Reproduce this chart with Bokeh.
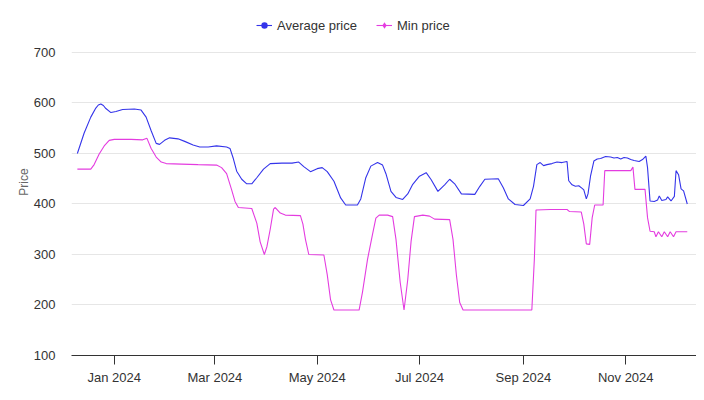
from datetime import datetime, timedelta
from bokeh.plotting import figure
from bokeh.models import (ColumnDataSource, Legend, LegendItem, FixedTicker,
                          DatetimeTickFormatter, Range1d)
from bokeh.embed import file_html
from bokeh.resources import INLINE

# ---- data (day offsets from 2024-01-01) ----
avg_days = [-22, -18, -14, -11, -9.5, -8, -6.5, -5, -2, 1, 5, 12, 16, 19, 22, 25, 27, 30, 33,
            38, 42, 47, 51, 56, 61, 67, 69, 71, 73, 76, 79, 82, 85, 89, 93, 100, 106, 110,
            113, 117, 121, 124, 127, 131, 135, 138, 145, 147, 150, 153, 157, 160, 162, 165,
            168, 172, 175, 178, 182, 186, 189, 193, 197, 200, 203, 207, 215, 218, 221, 229,
            232, 235, 239, 244, 248, 250, 252, 254, 256, 258, 261, 264, 267, 270, 271, 273,
            275, 277, 279, 280, 281.5, 282.5, 284, 286, 288, 290, 293, 296, 298, 300, 302,
            304, 306, 308, 310, 313, 315, 317, 318, 319.5, 322, 324, 325, 326.5, 329, 330,
            332, 334, 335, 336.5, 338, 339.5, 341.7]
avg_price = [500, 540, 572, 590, 596, 598, 595, 589, 581, 583, 587, 588, 586, 572, 545, 520,
             518, 526, 531, 529, 524, 517, 513, 513, 515, 513, 510, 490, 465, 449, 440, 440,
             452, 469, 480, 481, 481, 483, 474, 464, 470, 472, 464, 445, 412, 398, 398, 410,
             452, 475, 482, 477, 460, 425, 413, 409, 420, 439, 455, 462, 448, 425, 438, 449,
             440, 420, 419, 435, 449, 450, 432, 410, 399, 397, 410, 435, 478, 482, 476, 478,
             480, 483, 482, 484, 446, 438, 435, 436, 431, 428, 410, 420, 455, 485, 489, 490,
             494, 493, 491, 492, 489, 492, 491, 488, 486, 484, 488, 495, 472, 406, 405, 408,
             416, 407, 409, 414, 406, 415, 466, 458, 430, 426, 400]

min_days = [-22, -14, -12, -9, -6, -3, 0, 10, 17, 19.5, 22, 25, 28, 31, 40, 50, 61, 64, 67,
            70, 72, 74, 82, 85, 87, 89.5, 91, 93, 95, 96, 99, 102, 111, 112.5, 114, 116, 125,
            127, 129, 131, 146, 148, 151, 154, 156, 158, 163, 166, 168, 170.5, 172.8, 175,
            177, 179, 184, 188, 191, 200, 202, 204, 206, 208, 249, 250.5, 251.5, 260, 270,
            271.5, 278.5, 280, 281.5, 283.5, 285, 286.5, 291.5, 292.5, 308, 309.3, 310.5,
            316.5, 318, 319.5, 322, 323, 324.5, 326.5, 328, 330, 331.5, 333.5, 335, 341.7]
min_price = [469, 469, 478, 499, 515, 526, 528, 528, 527, 530, 510, 493, 483, 480, 479, 478,
             477, 472, 460, 428, 405, 393, 391, 362, 325, 300, 315, 350, 390, 393, 382, 378,
             377, 360, 330, 300, 299, 260, 210, 190, 190, 225, 290, 340, 372, 378, 378, 375,
             330, 245, 190, 250, 326, 375, 378, 376, 370, 369, 330, 260, 205, 190, 190, 290,
             388, 389, 389, 385, 384, 360, 321, 320, 373, 398, 398, 466, 466, 473, 429, 429,
             373, 346, 345, 335, 345, 335, 345, 335, 345, 335, 345, 345]

tick_dates = ["2024-01-01", "2024-03-01", "2024-05-01", "2024-07-01", "2024-09-01", "2024-11-01"]
y_ticks = [100, 200, 300, 400, 500, 600, 700]

BASE = datetime(2024, 1, 1)
def to_dt(d):
    return BASE + timedelta(days=d)

avg_src = ColumnDataSource(dict(x=[to_dt(d) for d in avg_days], y=avg_price))
min_src = ColumnDataSource(dict(x=[to_dt(d) for d in min_days], y=min_price))

BLUE = "#3434ea"
PINK = "#e43ce0"

p = figure(width=696, height=392, x_axis_type="datetime", output_backend="svg",
           toolbar_location=None, min_border_left=71, min_border_right=0,
           min_border_top=8, min_border_bottom=37)
p.x_range = Range1d(to_dt(-25.5), to_dt(347.2))
p.y_range = Range1d(100, 787.1)

p.outline_line_color = None
p.background_fill_color = "white"
p.border_fill_color = "white"

l1 = p.line("x", "y", source=avg_src, line_color=BLUE, line_width=1.1)
s1 = p.scatter("x", "y", source=avg_src, marker="circle", size=0, fill_color=BLUE,
               line_alpha=0)
l2 = p.line("x", "y", source=min_src, line_color=PINK, line_width=1.1)
s2 = p.scatter("x", "y", source=min_src, marker="diamond", size=0, fill_color=PINK,
               line_alpha=0)

legend = Legend(items=[LegendItem(label="Average price", renderers=[l1, s1]),
                       LegendItem(label="Min price", renderers=[l2, s2])],
                orientation="horizontal", location=(185, 321),
                glyph_width=16, glyph_height=18, label_standoff=5, spacing=19,
                padding=0, margin=0, border_line_alpha=0, background_fill_alpha=0,
                label_text_font="Liberation Sans", label_text_font_size="13px",
                label_text_color="#333333")
p.add_layout(legend, "center")

# x axis
tick_ms = [datetime.strptime(t, "%Y-%m-%d").timestamp() * 1000 for t in tick_dates]
p.xaxis.ticker = FixedTicker(ticks=tick_ms)
p.xaxis.formatter = DatetimeTickFormatter(months="%b %Y", days="%b %Y", hours="%b %Y")
p.xaxis.axis_line_color = "#333333"
p.xaxis.major_tick_line_color = "#333333"
p.xaxis.major_tick_out = 9
p.xaxis.major_tick_in = 0
p.xaxis.minor_tick_line_color = None
p.xaxis.major_label_standoff = 5
p.xaxis.major_label_text_font = "Liberation Sans"
p.xaxis.major_label_text_font_size = "13px"
p.xaxis.major_label_text_color = "#333333"
p.xgrid.grid_line_color = None

# y axis
p.yaxis.ticker = FixedTicker(ticks=y_ticks)
p.yaxis.axis_line_color = None
p.yaxis.major_tick_line_color = None
p.yaxis.minor_tick_line_color = None
p.yaxis.major_label_standoff = 10
p.yaxis.major_label_text_font = "Liberation Sans"
p.yaxis.major_label_text_font_size = "13px"
p.yaxis.major_label_text_color = "#333333"
p.yaxis.axis_label = "Price"
p.yaxis.axis_label_text_font = "Liberation Sans"
p.yaxis.axis_label_text_font_size = "12px"
p.yaxis.axis_label_text_font_style = "normal"
p.yaxis.axis_label_text_color = "#666666"
p.yaxis.axis_label_standoff = 0
p.ygrid.ticker = FixedTicker(ticks=y_ticks)
p.ygrid.grid_line_color = "#e6e6e6"

open("out.html", "w").write(file_html(p, INLINE))
